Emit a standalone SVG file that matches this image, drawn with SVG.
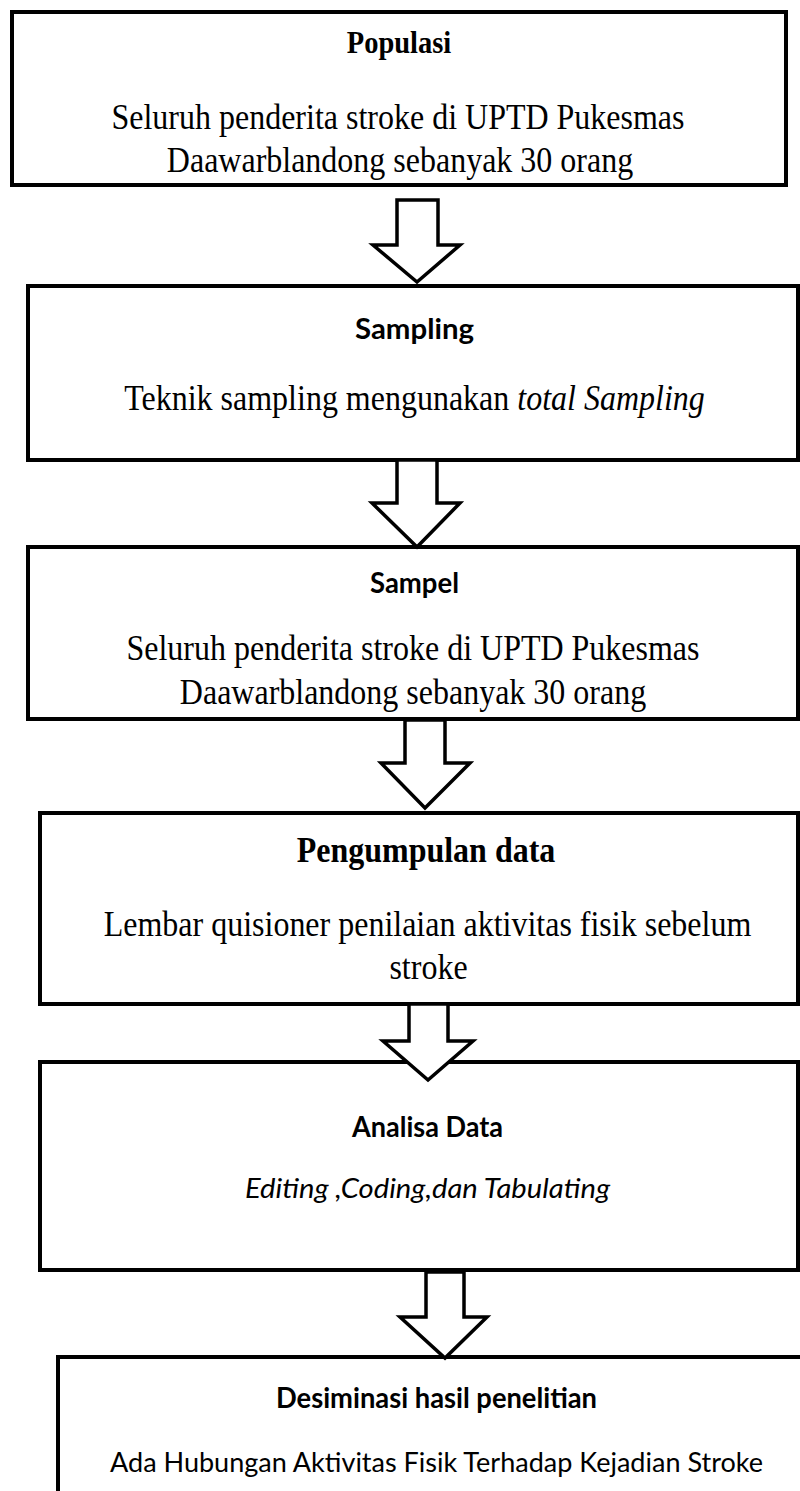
<svg xmlns="http://www.w3.org/2000/svg" width="800" height="1491" viewBox="0 0 800 1491">
  <style>
    .box { fill: #ffffff; stroke: #000000; stroke-width: 4; }
    .arrow { fill: #ffffff; stroke: #000000; stroke-width: 3.5; stroke-linejoin: miter; }
    .serif { font-family: "Liberation Serif", "Times New Roman", serif; font-size: 32px; fill: #000000; }
    .serif-b { font-family: "Liberation Serif", "Times New Roman", serif; font-weight: bold; fill: #000000; }
    .sans-b { font-family: Lato, "Open Sans", sans-serif; font-weight: bold; font-size: 28px; fill: #000000; }
    .sans { font-family: Lato, "Open Sans", sans-serif; font-size: 27px; fill: #000000; }
    .it { font-style: italic; }
  </style>
  <rect width="800" height="1491" fill="#ffffff"/>

  <!-- serif lines are set slightly tall: translate to the baseline, then stretch 1.1 vertically -->
  <g id="populasi">
    <rect class="box" x="12" y="12" width="774" height="173"/>
    <text class="serif-b" transform="translate(399,53) scale(1,1.1)" font-size="28.5" text-anchor="middle">Populasi</text>
    <text class="serif" transform="translate(398,129) scale(1,1.1)" text-anchor="middle">Seluruh penderita stroke di UPTD Pukesmas</text>
    <text class="serif" transform="translate(400,172) scale(1,1.1)" text-anchor="middle">Daawarblandong sebanyak 30 orang</text>
  </g>

  <g id="sampling">
    <rect class="box" x="28" y="286" width="770" height="174"/>
    <text class="sans-b" x="414.5" y="339" text-anchor="middle" textLength="119" lengthAdjust="spacingAndGlyphs">Sampling</text>
    <text class="serif" transform="translate(414.5,410) scale(1,1.1)" text-anchor="middle">Teknik sampling mengunakan <tspan class="it">total Sampling</tspan></text>
  </g>

  <g id="sampel">
    <rect class="box" x="28" y="547" width="770" height="172"/>
    <text class="sans-b" x="414.5" y="593" text-anchor="middle" textLength="89" lengthAdjust="spacingAndGlyphs">Sampel</text>
    <text class="serif" transform="translate(413,660) scale(1,1.1)" text-anchor="middle">Seluruh penderita stroke di UPTD Pukesmas</text>
    <text class="serif" transform="translate(413,704) scale(1,1.1)" text-anchor="middle">Daawarblandong sebanyak 30 orang</text>
  </g>

  <g id="pengumpulan-data">
    <rect class="box" x="40" y="813" width="758" height="191"/>
    <text class="serif-b" transform="translate(426,862) scale(1,1.1)" font-size="32" text-anchor="middle">Pengumpulan data</text>
    <text class="serif" transform="translate(427.5,936) scale(1,1.1)" text-anchor="middle">Lembar quisioner penilaian aktivitas fisik sebelum</text>
    <text class="serif" transform="translate(428.5,979) scale(1,1.1)" text-anchor="middle">stroke</text>
  </g>

  <g id="analisa-data">
    <rect class="box" x="40" y="1062" width="758" height="208"/>
    <text class="sans-b" x="427.5" y="1137" text-anchor="middle" textLength="151" lengthAdjust="spacingAndGlyphs">Analisa Data</text>
    <text class="sans it" x="427.5" y="1198" text-anchor="middle" textLength="365" lengthAdjust="spacingAndGlyphs">Editing ,Coding,dan Tabulating</text>
  </g>

  <g id="desiminasi">
    <rect class="box" x="58" y="1357" width="770" height="200"/>
    <text class="sans-b" x="436.5" y="1408" text-anchor="middle" textLength="321" lengthAdjust="spacingAndGlyphs">Desiminasi hasil penelitian</text>
    <text class="sans" x="436.5" y="1472" text-anchor="middle" textLength="653" lengthAdjust="spacingAndGlyphs">Ada Hubungan Aktivitas Fisik Terhadap Kejadian Stroke</text>
  </g>

  <!-- block arrows between the stages -->
  <g id="connectors">
    <path class="arrow" d="M397,200 H438 V245 H460 L417,282 L373,245 H397 Z"/>
    <path class="arrow" d="M397,460 H437 V503 H460 L417,547 L372,503 H397 Z"/>
    <path class="arrow" d="M405,720 H445 V763 H470 L425,808 L381,763 H405 Z"/>
    <path class="arrow" d="M409,1004 H448 V1041 H473 L428,1080 L383,1041 H409 Z"/>
    <path class="arrow" d="M426,1272 H464 V1317 H487 L445,1358 L400,1317 H426 Z"/>
  </g>
</svg>
